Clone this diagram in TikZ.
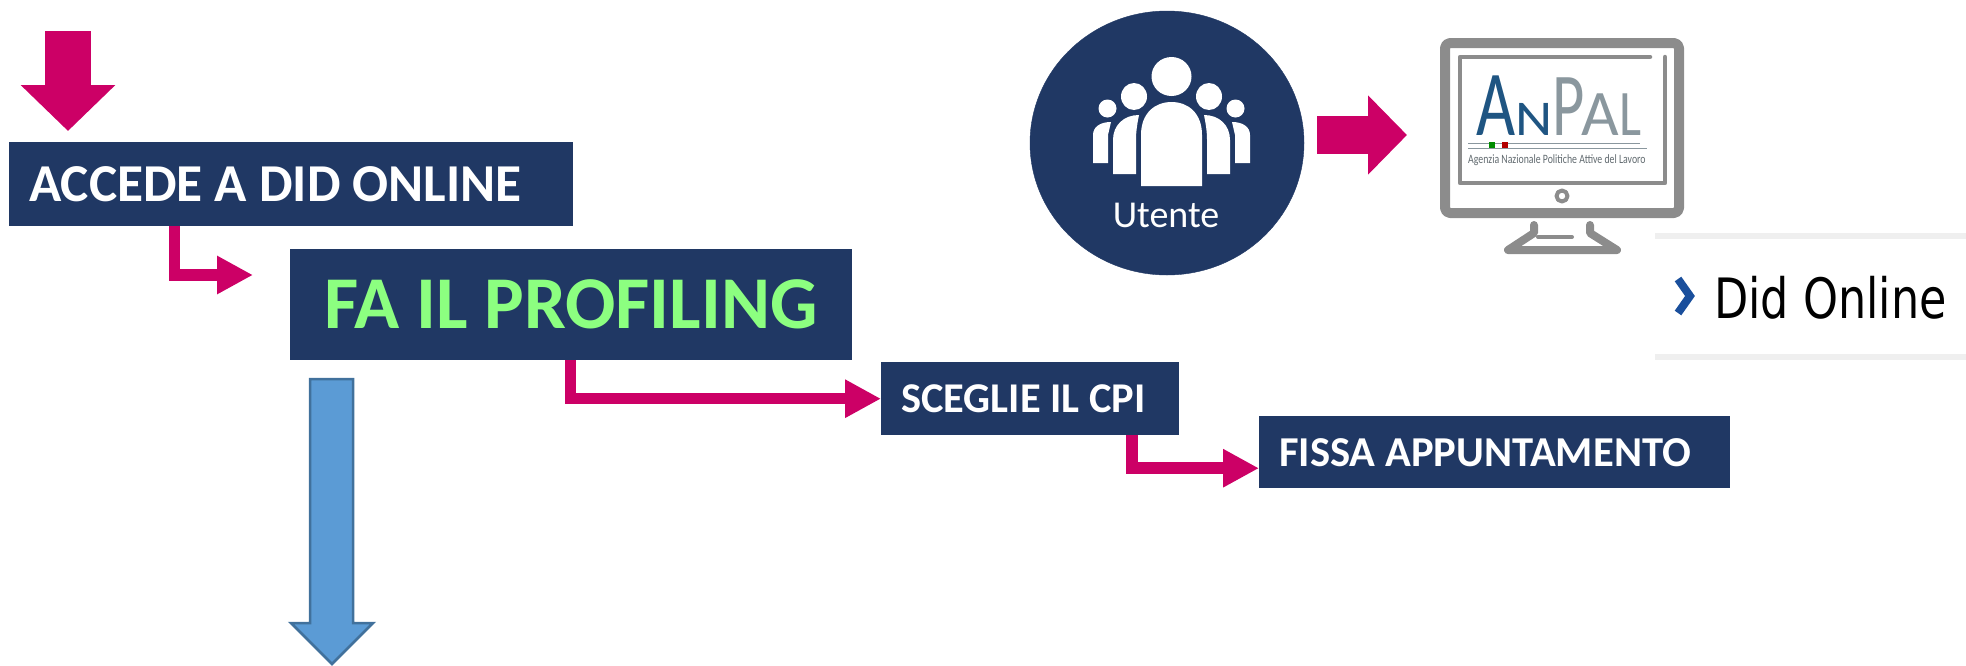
\documentclass[tikz,border=0pt]{standalone}
\usepackage{fontspec}
\setmainfont{Carlito}
\newfontfamily\didfont{DejaVu Sans}
\usetikzlibrary{arrows.meta}
\definecolor{navy}{HTML}{203864}
\definecolor{pinkarrow}{HTML}{CC0066}
\definecolor{bluearrow}{HTML}{5B9BD5}
\definecolor{blueedge}{HTML}{41719C}
\definecolor{profgreen}{HTML}{8CFF80}
\definecolor{screengray}{HTML}{8C8C8C}
\definecolor{logoblue}{HTML}{1F5582}
\definecolor{logogray}{HTML}{8A979E}
\definecolor{menuline}{HTML}{EFEFEF}
\definecolor{menublue}{HTML}{1A4F9C}
\newcommand{\bigfont}[1]{\fontsize{#1}{#1}\selectfont}
\tikzset{
	navybox/.style={fill=navy, text=white, anchor=north west, align=flush left, inner ysep=0pt},
	elbow/.style={draw=pinkarrow, line width=11.5pt, -{Triangle[length=36pt,width=36pt]}},
	screen/.style={draw=screengray, line join=round, line cap=round},
}
\begin{document}
\begin{tikzpicture}[x=1pt, y=-1pt]
	\useasboundingbox (0,0) rectangle (1966,665);
	% boxes
	\node[navybox, inner xsep=20pt, text width=524pt, minimum height=84pt, font=\bfseries\bigfont{53.3}] (accede) at (9,142) {ACCEDE A DID ONLINE};
	\node[navybox, inner xsep=34pt, text width=494pt, minimum height=111pt, font=\bfseries\bigfont{74.5}, text=profgreen] (profiling) at (290,249) {\mbox{FA IL PROFILING}};
	\node[navybox, inner xsep=20pt, text width=258pt, minimum height=73pt, font=\bfseries\bigfont{42.4}] (cpi) at (881,362) {SCEGLIE IL CPI};
	\node[navybox, inner xsep=20pt, text width=431pt, minimum height=72pt, font=\bfseries\bigfont{42.6}] (fissa) at (1259,416) {FISSA APPUNTAMENTO};
	% arrows
	\coordinate (start) at (68,31);
	\coordinate (tipone) at (253,275);
	\draw[draw=pinkarrow, line width=45.5pt, -{Triangle[length=46pt,width=92pt]}] (start) -- ([yshift=11pt]accede.north -| start);
	\draw[elbow] ([xshift=165.5pt]accede.south west) |- (tipone);
	\draw[elbow] ([xshift=280.5pt]profiling.south west) |- (cpi.west);
	\draw[elbow] ([xshift=251pt]cpi.south west) |- ([yshift=-16pt]fissa.west);
	\filldraw[fill=bluearrow, draw=blueedge, line width=2.5pt, line join=miter] (310,379) -- (353,379) -- (353,623) -- (373,623) -- (332,664) -- (291,623) -- (310,623) -- cycle;
	% user
	\filldraw[fill=navy, draw=navy] (1167,143) ellipse (137 and 132);
	\fill[white] (1171.5,76.5) ellipse (20 and 19.5);
	\fill[white] (1134,96.5) ellipse (13 and 13.5);
	\fill[white] (1209,96.5) ellipse (13 and 13.5);
	\fill[white] (1107.5,108.5) ellipse (9 and 9);
	\fill[white] (1235.5,108.5) ellipse (9 and 9);
	\fill[white] (1141,186) -- (1141,135) .. controls (1141,113) and (1155,102) .. (1171.5,102) .. controls (1188,102) and (1202,113) .. (1202,135) -- (1202,186) -- cycle;
	\fill[white] (1113,174) -- (1113,140) .. controls (1113,125) and (1124,115) .. (1139,115) .. controls (1137,125) and (1136,132) .. (1136,140) -- (1136,174) -- cycle;
	\fill[white] (1230,174) -- (1230,140) .. controls (1230,125) and (1219,115) .. (1204,115) .. controls (1206,125) and (1207,132) .. (1207,140) -- (1207,174) -- cycle;
	\fill[white] (1093,163) -- (1093,135) .. controls (1093,127) and (1100,122) .. (1111,122) -- (1108,135) -- (1108,163) -- cycle;
	\fill[white] (1250,163) -- (1250,135) .. controls (1250,127) and (1243,122) .. (1232,122) -- (1235,135) -- (1235,163) -- cycle;
	\node[text=white, font=\bigfont{38}] (utente) at (1166,215) {Utente};
	\coordinate (usera) at (1317,135);
	\coordinate (userb) at (1407,135);
	\draw[draw=pinkarrow, line width=38pt, -{Triangle[length=39pt,width=77pt]}] (usera) -- (userb);
	% monitor
	\draw[screen, line width=10pt, rounded corners=5pt] (1445,43) rectangle (1679,213);
	\draw[screen, line width=4.5pt] (1650,57) -- (1460,57) -- (1460,183) -- (1665,183) -- (1665,57);
	\draw[screen, line width=4pt] (1562,196) circle (5.5);
	\draw[screen, line width=8pt] (1534,225) -- (1534,233) -- (1508,250) -- (1617,250) -- (1590,233) -- (1590,225);
	\draw[screen, line width=4pt] (1538,237) -- (1572,237);
	\node[anchor=base west, inner sep=0pt, font=\bigfont{50}] (anpal) at (1476,135) {\color{logoblue}\scalebox{1.35}[1.86]{A}\scalebox{1.15}[1]{N}\color{logogray}\scalebox{1.25}[1.8]{P}\kern-3pt\scalebox{1.3}[1.3]{A}\scalebox{1.05}[1.3]{L}};
	\draw[logogray, line width=1pt] (1468,143) -- (1640,143);
	\draw[logogray, line width=1pt] (1468,148) -- (1647,148);
	\fill[green!55!black] (1489,142) rectangle (1495,148);
	\fill[red!70!black] (1502,142) rectangle (1508,148);
	\node[text=logogray!70!black, font=\bigfont{9.8}, yscale=1.3, inner sep=0pt, anchor=west] (agenzia) at (1468,160) {Agenzia Nazionale Politiche Attive del Lavoro};
	% menu
	\fill[menuline] (1655,233) rectangle (1966,239);
	\fill[menuline] (1655,354) rectangle (1966,360);
	\draw[menublue, line width=8pt] (1678,279) -- (1690,296) -- (1678,313);
	\node[anchor=west, inner sep=0pt, yscale=1.25, font=\didfont\bigfont{44.5}] (did) at (1714,298) {Did Online};
\end{tikzpicture}
\end{document}
